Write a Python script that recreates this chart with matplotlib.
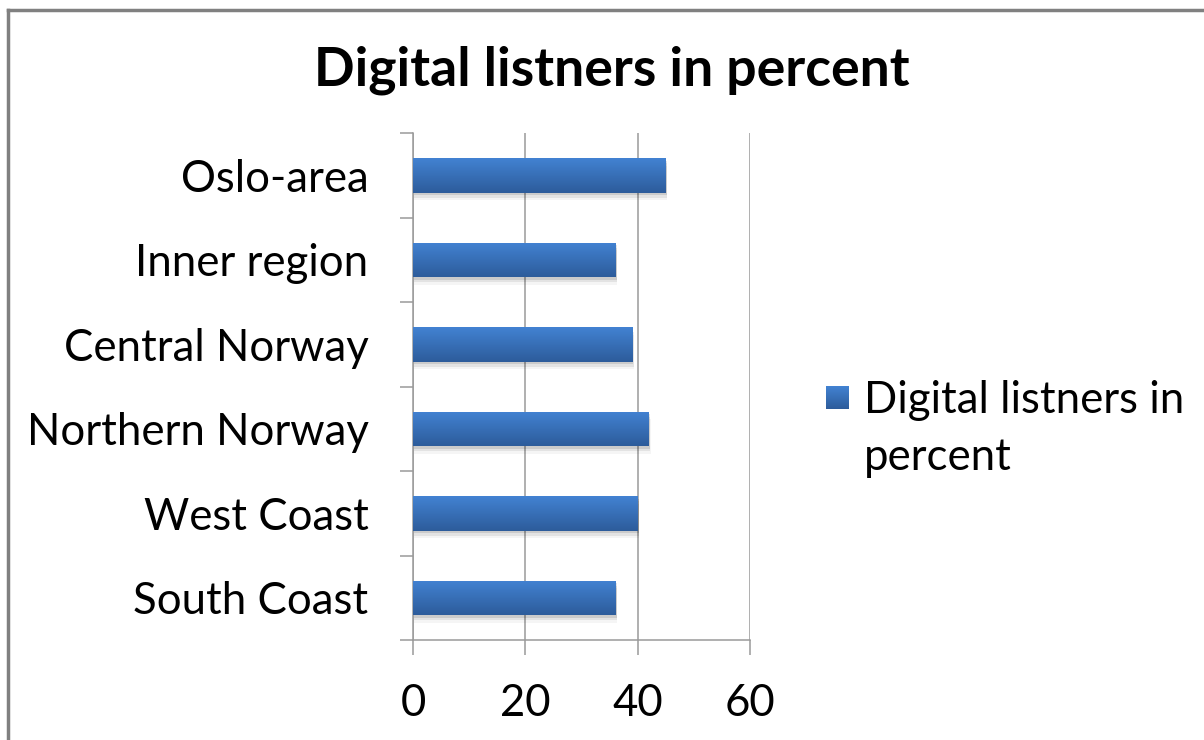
import matplotlib
matplotlib.use("Agg")
import matplotlib.pyplot as plt
import numpy as np
from matplotlib.colors import LinearSegmentedColormap
from matplotlib.lines import Line2D
from matplotlib.patches import Rectangle

plt.rcParams["font.family"] = ["Lato", "DejaVu Sans"]

regions = ["South Coast", "West Coast", "Northern Norway",
           "Central Norway", "Inner region", "Oslo-area"]
percent = [36, 40, 42, 39, 36, 45]
x_ticks = [0, 20, 40, 60]

TITLE = "Digital listners in percent"
SERIES = "Digital listners in\npercent"
BAR_TOP = "#4282d2"
BAR_BOTTOM = "#2d5c9b"
GRID = "#9a9a9a"
LABEL_SIZE = 31.5

fig = plt.figure(figsize=(12.04, 7.4), dpi=100)
ax = fig.add_axes([0.343, 0.135, 0.280, 0.685])

ypos = np.arange(len(regions))
bars = ax.barh(ypos, percent, height=0.41, color=BAR_BOTTOM, zorder=3)

# soft drop shadow under each bar
for b in bars:
    x0, y0 = b.get_x(), b.get_y()
    w, h = b.get_width(), b.get_height()
    for k, a in enumerate([0.10, 0.07, 0.04]):
        d = 0.35 + 0.3 * k
        ax.add_patch(Rectangle((x0 + 0.2, y0 - 0.03 * (k + 1)), w + 0.1 * d, h,
                               facecolor="black", alpha=a, edgecolor="none", zorder=2))

# vertical gradient fill, clipped to each bar
cmap = LinearSegmentedColormap.from_list("bar", [BAR_BOTTOM, BAR_TOP])
grad = np.linspace(0, 1, 64).reshape(-1, 1)
for b in bars:
    x0, y0 = b.get_x(), b.get_y()
    im = ax.imshow(grad, cmap=cmap, aspect="auto", origin="lower",
                   extent=[x0, x0 + b.get_width(), y0, y0 + b.get_height()], zorder=4)
    im.set_clip_path(b)

ax.set_xlim(0, 60)
ax.set_ylim(-0.5, len(regions) - 0.5)
ax.set_xticks(x_ticks)
ax.set_xticklabels([str(t) for t in x_ticks])
ax.set_yticks(ypos)
ax.set_yticklabels(regions)
ax.set_yticks(np.arange(len(regions) + 1) - 0.5, minor=True)

ax.tick_params(axis="y", which="major", length=0, pad=32, labelsize=LABEL_SIZE)
ax.tick_params(axis="y", which="minor", length=9.5, width=1.1, color=GRID, direction="out")
ax.tick_params(axis="x", length=11, width=1.1, color=GRID, direction="out", pad=20,
               labelsize=LABEL_SIZE)

ax.grid(axis="x", color=GRID, linewidth=1.1, zorder=0)
ax.set_axisbelow(True)
for side in ("top", "right"):
    ax.spines[side].set_visible(False)
for side in ("left", "bottom"):
    ax.spines[side].set_color(GRID)
    ax.spines[side].set_linewidth(1.1)

fig.text(0.508, 0.905, TITLE, ha="center", va="center", fontsize=38.5, fontweight="bold")

# legend: gradient square key followed by the wrapped series name
key_ax = fig.add_axes([826 / 1204, 1 - 409 / 740, 23 / 1204, 23 / 740])
key_ax.imshow(grad, cmap=cmap, aspect="auto", origin="lower", extent=[0, 1, 0, 1])
key_ax.axis("off")
fig.text(864 / 1204, 1 - 380 / 740, SERIES, ha="left", va="top",
         fontsize=LABEL_SIZE, linespacing=1.5)

# chart frame, only the top and left edges fall inside the image
fig.add_artist(Line2D([0.007, 0.007], [0.0, 0.986], color="#808080", linewidth=2.5))
fig.add_artist(Line2D([0.007, 1.0], [0.986, 0.986], color="#808080", linewidth=2.5))

fig.savefig("out.png", dpi=100, facecolor="white")
